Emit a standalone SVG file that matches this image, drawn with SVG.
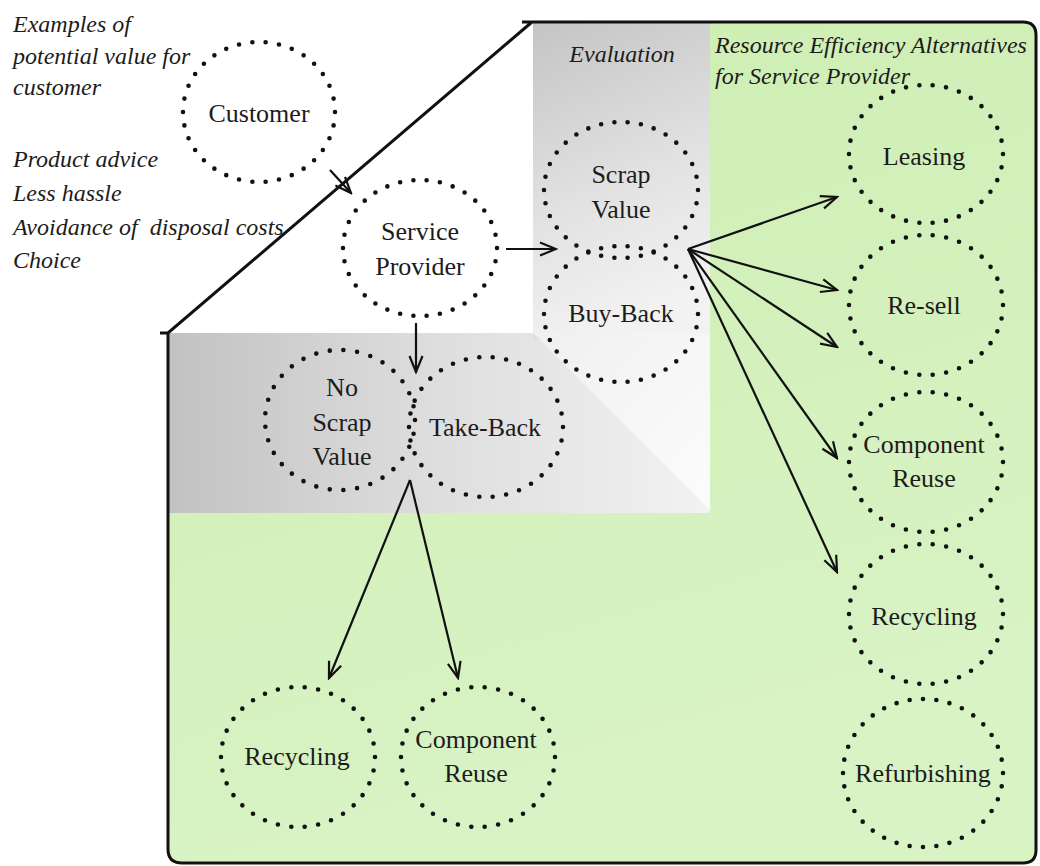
<svg xmlns="http://www.w3.org/2000/svg" width="1040" height="866" viewBox="0 0 1040 866">
<defs>
<style>
.dot{fill:none;stroke:#111;stroke-width:4.6;stroke-linecap:round;stroke-dasharray:0 1}
.lbl{font-family:"Liberation Serif","Times New Roman",serif;font-size:26px;fill:#1c1c1c;text-anchor:middle}
.it{font-family:"Liberation Serif","Times New Roman",serif;font-size:24px;font-style:italic;fill:#1c1c1c}
.con{fill:none;stroke:#111;stroke-width:2.2}
.frame{fill:none;stroke:#111;stroke-width:3;stroke-linejoin:miter}
</style>
<marker id="ah" viewBox="-18 -10 20 20" refX="0" refY="0" markerWidth="20" markerHeight="20" markerUnits="userSpaceOnUse" orient="auto">
<path d="M -16 -6.5 L 0 0 L -16 6.5" fill="none" stroke="#111" stroke-width="2.2"/>
</marker>
<linearGradient id="green" x1="0" y1="0" x2="0.3" y2="1">
<stop offset="0" stop-color="#cdeeb2"/>
<stop offset="1" stop-color="#d9f3c5"/>
</linearGradient>
<linearGradient id="col" x1="0" y1="0" x2="0.25" y2="1">
<stop offset="0" stop-color="#c4c4c4"/>
<stop offset="0.6" stop-color="#e2e2e2"/>
<stop offset="1" stop-color="#f2f2f2"/>
</linearGradient>
<linearGradient id="band" x1="0" y1="0" x2="1" y2="0">
<stop offset="0" stop-color="#c2c2c2"/>
<stop offset="0.5" stop-color="#dedede"/>
<stop offset="1" stop-color="#f2f2f2"/>
</linearGradient>
<linearGradient id="tri" x1="0" y1="0" x2="1" y2="1">
<stop offset="0" stop-color="#f0f0f0"/>
<stop offset="1" stop-color="#fcfcfc"/>
</linearGradient>
</defs>
<rect width="1040" height="866" fill="#fff"/>
<g id="background">
<path d="M 168 333 L 532 22 L 1023 22 Q 1036 22 1036 35 L 1036 850 Q 1036 863 1023 863 L 182 863 Q 168 863 168 849 Z" fill="url(#green)"/>
<rect x="533" y="22" width="177" height="320" fill="url(#col)"/>
<rect x="168" y="333" width="542" height="180" fill="url(#band)"/>
<polygon points="533,333 710,333 710,510" fill="url(#tri)"/>
<polygon points="533,333 533,342 540,340" fill="#e0e0e0"/>
<polygon points="532,22 533,22 533,333 168,333" fill="#fff"/>
<path class="frame" d="M 160 333 L 168 333 L 532 22 M 522 22 L 1023 22 Q 1036 22 1036 35 L 1036 850 Q 1036 863 1023 863 L 182 863 Q 168 863 168 849 L 168 333"/>
</g>
<g id="texts">
<text class="it" x="13" y="32">Examples of</text>
<text class="it" x="13" y="64">potential value for</text>
<text class="it" x="13" y="95">customer</text>
<text class="it" x="13" y="167">Product advice</text>
<text class="it" x="13" y="201">Less hassle</text>
<text class="it" x="13" y="235" xml:space="preserve">Avoidance of  disposal costs</text>
<text class="it" x="13" y="268">Choice</text>
<text class="it" x="622" y="62" text-anchor="middle">Evaluation</text>
<text class="it" x="715" y="53">Resource Efficiency Alternatives</text>
<text class="it" x="715" y="84">for Service Provider</text>
</g>
<g id="connectors">
<line class="con" x1="330" y1="170" x2="351" y2="193" marker-end="url(#ah)"/>
<line class="con" x1="506" y1="249" x2="556" y2="249" marker-end="url(#ah)"/>
<line class="con" x1="416" y1="323" x2="416" y2="372" marker-end="url(#ah)"/>
<line class="con" x1="410" y1="480" x2="329" y2="678" marker-end="url(#ah)"/>
<line class="con" x1="410" y1="480" x2="458" y2="678" marker-end="url(#ah)"/>
<line class="con" x1="688" y1="249" x2="837" y2="197" marker-end="url(#ah)"/>
<line class="con" x1="688" y1="249" x2="837" y2="290" marker-end="url(#ah)"/>
<line class="con" x1="688" y1="249" x2="837" y2="347" marker-end="url(#ah)"/>
<line class="con" x1="688" y1="249" x2="837" y2="458" marker-end="url(#ah)"/>
<line class="con" x1="688" y1="249" x2="837" y2="572" marker-end="url(#ah)"/>
</g>
<g id="customer"><ellipse class="dot" cx="259" cy="112" rx="76" ry="70" pathLength="34"/><text class="lbl" x="259" y="122">Customer</text></g>
<g id="service-provider"><ellipse class="dot" cx="420" cy="248" rx="77" ry="68" pathLength="34"/><text class="lbl" x="420" y="240">Service</text><text class="lbl" x="420" y="275">Provider</text></g>
<g id="scrap-value"><ellipse class="dot" cx="621" cy="190" rx="77" ry="68" pathLength="34"/><text class="lbl" x="621" y="183">Scrap</text><text class="lbl" x="621" y="218">Value</text></g>
<g id="buy-back"><ellipse class="dot" cx="621" cy="314" rx="77" ry="68" pathLength="34"/><text class="lbl" x="621" y="322">Buy-Back</text></g>
<g id="no-scrap-value"><ellipse class="dot" cx="340" cy="420" rx="75" ry="70" pathLength="33"/><text class="lbl" x="342" y="396">No</text><text class="lbl" x="342" y="431">Scrap</text><text class="lbl" x="342" y="465">Value</text></g>
<g id="take-back"><ellipse class="dot" cx="486" cy="427" rx="77" ry="70" pathLength="34"/><text class="lbl" x="485" y="436">Take-Back</text></g>
<g id="recycling-left"><ellipse class="dot" cx="298" cy="757" rx="77" ry="70" pathLength="34"/><text class="lbl" x="297" y="765">Recycling</text></g>
<g id="component-reuse-left"><ellipse class="dot" cx="478" cy="757" rx="77" ry="70" pathLength="34"/><text class="lbl" x="476" y="748">Component</text><text class="lbl" x="476" y="782">Reuse</text></g>
<g id="leasing"><ellipse class="dot" cx="926" cy="154" rx="77" ry="69" pathLength="34"/><text class="lbl" x="924" y="165">Leasing</text></g>
<g id="re-sell"><ellipse class="dot" cx="926" cy="305" rx="77" ry="70" pathLength="34"/><text class="lbl" x="924" y="314">Re-sell</text></g>
<g id="component-reuse-right"><ellipse class="dot" cx="926" cy="462" rx="77" ry="70" pathLength="34"/><text class="lbl" x="924" y="453">Component</text><text class="lbl" x="924" y="487">Reuse</text></g>
<g id="recycling-right"><ellipse class="dot" cx="926" cy="614" rx="77" ry="70" pathLength="34"/><text class="lbl" x="924" y="625">Recycling</text></g>
<g id="refurbishing"><ellipse class="dot" cx="923" cy="773" rx="80" ry="74" pathLength="36"/><text class="lbl" x="923" y="782">Refurbishing</text></g>
</svg>
